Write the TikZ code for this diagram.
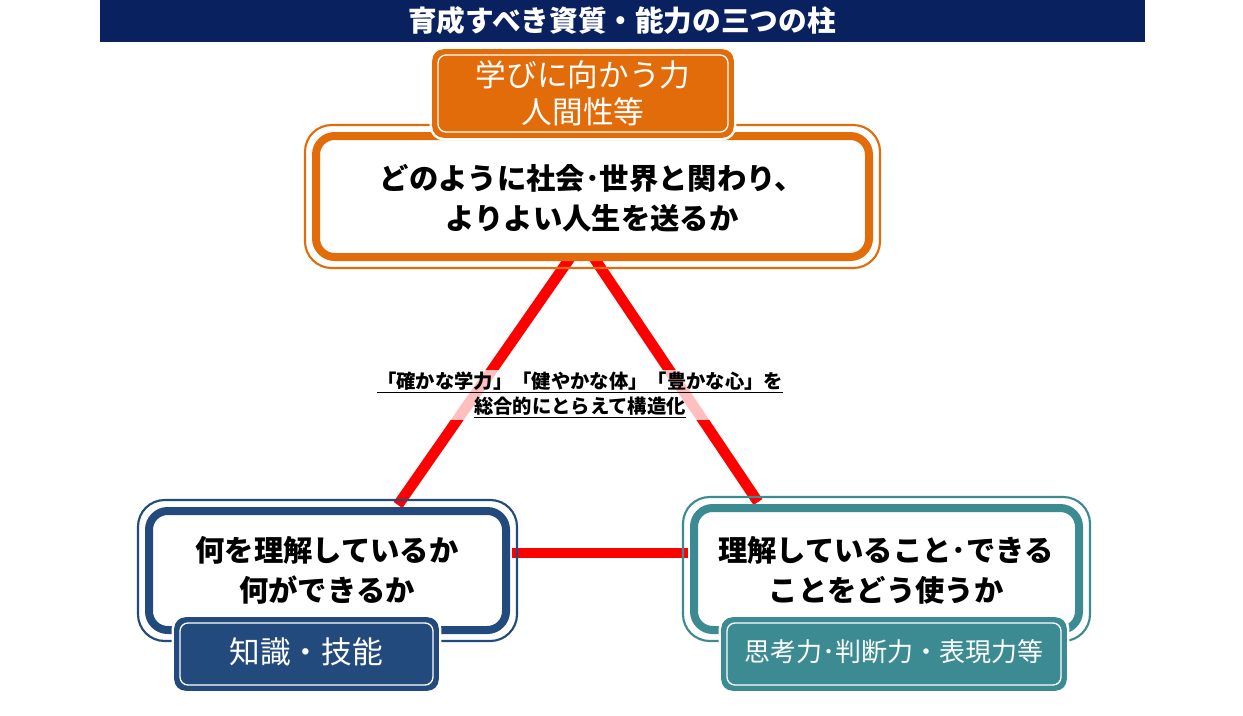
\documentclass[tikz,border=0pt]{standalone}
\usepackage{fontspec}
\newfontfamily\jp{Noto Sans CJK JP}
\usetikzlibrary{positioning}
\definecolor{navy}{HTML}{0A2160}
\definecolor{orng}{HTML}{E36C0A}
\definecolor{kblue}{HTML}{234A7C}
\definecolor{teal}{HTML}{3D8B92}
\definecolor{lred}{HTML}{FF0000}

\tikzset{
  pillar/.style={draw=#1, line width=6pt, fill=white, rounded corners=14pt},
  rim/.style={draw=#1, line width=1.6pt, rounded corners=20pt},
  tag/.style={fill=#1, draw=#1, line width=1.2pt, rounded corners=8pt},
  tagline/.style={draw=white, line width=1pt, rounded corners=6pt},
  gap/.style={draw=white, line width=5pt, rounded corners=8pt},
  leg/.style={lred, line width=8pt},
}

\begin{document}
\begin{tikzpicture}[x=0.75pt,y=0.75pt,yscale=-1,xscale=1]
\useasboundingbox (0,0) rectangle (1243,715);

% title bar
\fill[navy] (100,0) rectangle (1145,42);
\node[text=white, font=\jp\bfseries\fontsize{21.5}{24}\selectfont] (title) at (622,21) {育成すべき資質・能力の三つの柱};

% triangle
\coordinate (tl) at (570,258);
\coordinate (tr) at (594,258);
\coordinate (bl) at (398,505);
\coordinate (br) at (758,502);
\coordinate (hl) at (512,553);
\coordinate (hr) at (688,553);
\draw[leg] (tl) -- (bl);
\draw[leg] (tr) -- (br);
\draw[leg] (hl) -- (hr);

\node[fill=white, fill opacity=0.75, text opacity=1, align=center, inner sep=1pt,
      font=\jp\bfseries\fontsize{14.5}{19}\selectfont] (mid) at (580,395)
  {\underline{「確かな学力」「健やかな体」「豊かな心」を}\\\underline{総合的にとらえて構造化}};

% top pillar
\draw[rim=orng] (305,125) rectangle (880,268);
\draw[pillar=orng] (316,136) rectangle (869,257);
\node[font=\jp\bfseries\fontsize{22}{30}\selectfont, align=center] (topq) at (592,198)
  {どのように社会･世界と関わり、\\よりよい人生を送るか};
\draw[gap] (433,50) rectangle (733,137);
\draw[tag=orng] (433,50) rectangle (733,137);
\draw[tagline] (438,55) rectangle (728,132);
\node[text=white, font=\jp\fontsize{23}{28}\selectfont, align=center] (toptag) at (583,93)
  {学びに向かう力\\人間性等};

% left pillar
\draw[rim=kblue] (138,500) rectangle (517,641);
\draw[pillar=kblue] (149,511) rectangle (506,630);
\node[font=\jp\bfseries\fontsize{22}{30}\selectfont, align=center] (leftq) at (327,570)
  {何を理解しているか\\何ができるか};
\draw[gap] (175,618) rectangle (438,690);
\draw[tag=kblue] (175,618) rectangle (438,690);
\draw[tagline] (180,623) rectangle (433,685);
\node[text=white, font=\jp\fontsize{23}{27}\selectfont] (lefttag) at (306,652) {知識・技能};

% right pillar
\draw[rim=teal] (683,497) rectangle (1090,641);
\draw[pillar=teal] (694,508) rectangle (1079,630);
\node[font=\jp\bfseries\fontsize{22}{30}\selectfont, align=center] (rightq) at (886,570)
  {理解していること･できる\\ことをどう使うか};
\draw[gap] (722,618) rectangle (1066,690);
\draw[tag=teal] (722,618) rectangle (1066,690);
\draw[tagline] (727,623) rectangle (1061,685);
\node[text=white, font=\jp\fontsize{19.5}{23}\selectfont] (righttag) at (894,652) {思考力･判断力・表現力等};
\end{tikzpicture}
\end{document}
